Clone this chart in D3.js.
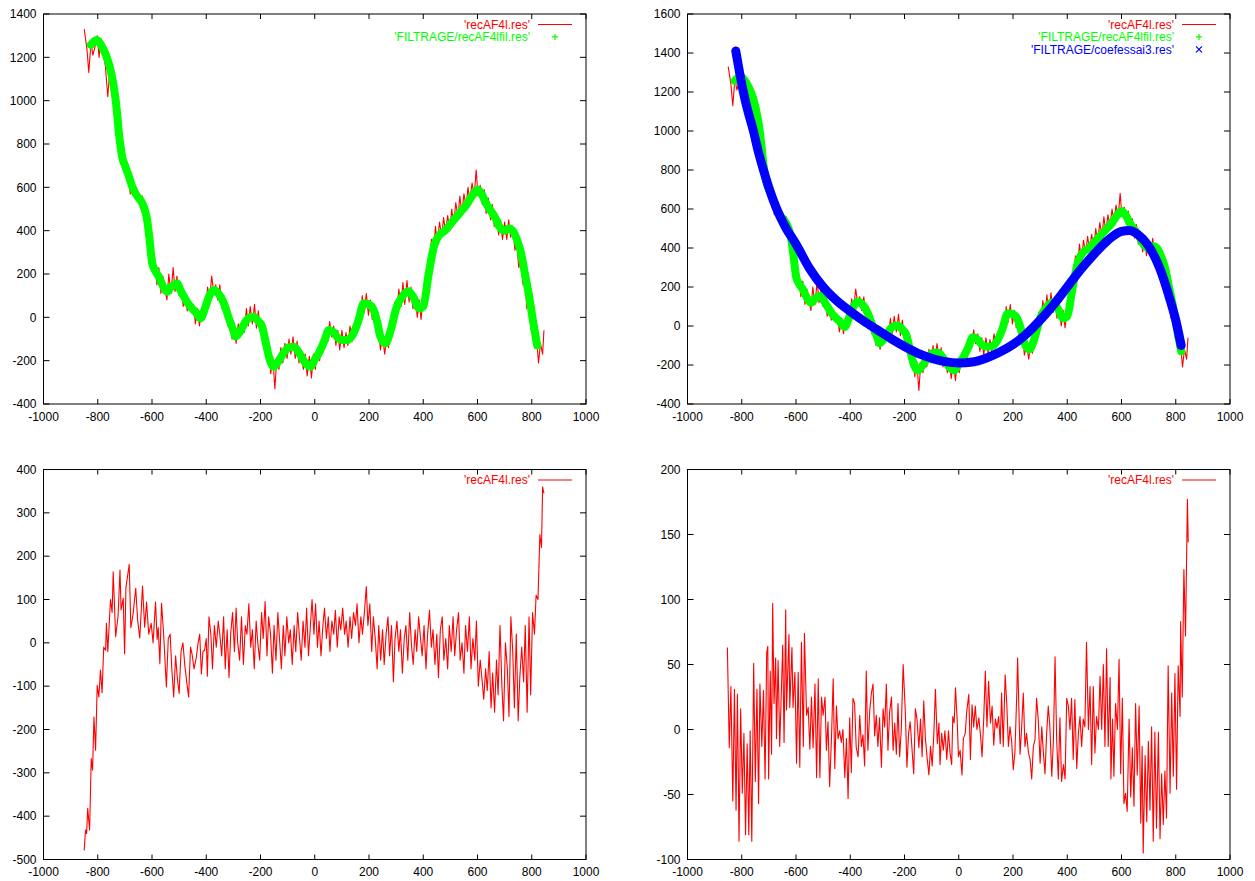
<!DOCTYPE html>
<html>
<head>
<meta charset="utf-8">
<script src="https://cdn.jsdelivr.net/npm/d3@7"></script>
<style>
  body { margin: 0; background: #fff; }
  svg text { font-family: "Liberation Sans", Arial, sans-serif; font-size: 12px; fill: #000; }
</style>
</head>
<body>
<svg id="chart" width="1255" height="881"></svg>
<script>
// raw signal 'recAF4l.res' (top panels)
const recAF4l = [[-850,1330],[-840,1240],[-833,1130],[-825,1270],[-818,1210],[-810,1250],[-802,1300],[-795,1200],[-788,1285],[-780,1220],[-772,1160],[-763,1018],[-755,1150],[-748,1100],[-740,1040],[-732,980],[-725,900],[-718,850],[-710,700],[-702,735],[-695,690],[-688,650],[-680,570],[-672,640],[-665,580],[-658,600],[-650,560],[-642,500],[-635,560],[-627,470],[-620,440],[-612,400],[-605,300],[-598,230],[-590,270],[-582,150],[-575,230],[-567,110],[-560,190],[-552,130],[-545,80],[-538,200],[-530,110],[-522,230],[-515,120],[-508,190],[-500,100],[-492,150],[-485,50],[-478,110],[-470,30],[-462,80],[-455,20],[-448,60],[-440,-30],[-432,40],[-425,-40],[-418,30],[-410,60],[-402,20],[-395,140],[-388,80],[-380,190],[-372,110],[-365,150],[-358,80],[-350,150],[-342,40],[-335,100],[-328,20],[-320,-40],[-312,20],[-305,-100],[-298,-40],[-290,-120],[-282,-30],[-275,-90],[-268,-20],[-260,-70],[-252,40],[-245,-40],[-238,50],[-230,-30],[-222,60],[-215,-50],[-208,30],[-200,-70],[-192,-20],[-185,-110],[-178,-160],[-170,-130],[-162,-260],[-155,-180],[-147,-330],[-140,-190],[-132,-240],[-125,-140],[-118,-210],[-110,-120],[-102,-190],[-95,-100],[-88,-170],[-80,-90],[-72,-190],[-65,-110],[-58,-210],[-50,-150],[-42,-240],[-35,-170],[-28,-270],[-20,-180],[-12,-280],[-5,-170],[2,-240],[10,-150],[18,-200],[25,-100],[32,-160],[40,-50],[48,-110],[55,-20],[62,-90],[70,-40],[78,-130],[85,-60],[92,-150],[100,-60],[108,-140],[115,-70],[122,-130],[130,-40],[138,-110],[145,-30],[152,-80],[160,30],[168,-30],[175,100],[182,20],[190,110],[198,10],[205,80],[212,-10],[220,60],[228,-70],[235,-40],[242,-150],[250,-90],[258,-170],[265,-90],[272,-140],[280,-20],[288,-70],[295,70],[302,10],[310,130],[318,50],[325,160],[332,60],[340,170],[348,70],[355,140],[362,40],[370,100],[378,0],[385,80],[392,-10],[400,90],[408,80],[415,240],[422,200],[430,360],[438,300],[445,420],[452,340],[460,440],[468,370],[475,460],[482,390],[490,470],[498,400],[505,500],[512,430],[520,530],[528,460],[535,560],[542,480],[550,570],[558,510],[565,600],[572,540],[580,620],[588,560],[595,680],[602,560],[610,610],[618,520],[625,590],[632,480],[640,550],[648,450],[655,520],[662,420],[670,480],[678,380],[685,450],[692,360],[700,440],[708,360],[715,450],[722,370],[730,420],[738,310],[745,340],[752,230],[760,260],[768,150],[775,170],[782,40],[790,80],[798,-60],[805,-40],[812,-140],[818,-100],[825,-210],[832,-120],[840,-170],[845,-60]];

// filtered signal 'FILTRAGE/recAF4lfil.res'
const recAF4lfil = [[-826,1257],[-815,1272],[-804,1280],[-790,1262],[-778,1234],[-765,1195],[-753,1142],[-743,1080],[-734,1003],[-727,920],[-722,850],[-716,790],[-710,741],[-698,695],[-685,650],[-673,603],[-655,560],[-636,527],[-625,490],[-618,450],[-610,370],[-599,249],[-588,215],[-575,188],[-560,145],[-544,118],[-530,140],[-518,150],[-507,157],[-495,125],[-480,90],[-468,65],[-458,49],[-440,25],[-421,-5],[-405,40],[-390,95],[-372,126],[-355,110],[-335,65],[-315,-10],[-300,-60],[-292,-89],[-275,-65],[-255,-20],[-240,0],[-225,3],[-210,-15],[-194,-43],[-180,-120],[-165,-200],[-151,-228],[-135,-205],[-115,-165],[-95,-138],[-77,-136],[-55,-170],[-35,-210],[-16,-228],[0,-195],[15,-165],[35,-110],[52,-58],[70,-70],[85,-95],[100,-105],[119,-105],[140,-80],[160,-20],[181,65],[200,60],[217,34],[230,-20],[242,-89],[260,-120],[280,-60],[300,40],[325,100],[345,120],[365,90],[385,40],[400,50],[420,200],[440,330],[460,380],[480,400],[500,430],[520,460],[540,490],[560,520],[580,560],[600,590],[615,570],[630,530],[650,490],[665,460],[680,420],[700,400],[715,410],[730,400],[745,360],[760,300],[775,200],[790,100],[805,-20],[820,-130]];

// fitted curve 'FILTRAGE/coefessai3.res'
const coefessai3 = [[-822,1410],[-808,1300],[-794,1200],[-776,1095],[-757,1000],[-740,900],[-720,800],[-700,710],[-671,600],[-640,510],[-600,420],[-550,295],[-500,200],[-450,130],[-400,75],[-350,25],[-300,-20],[-250,-65],[-200,-105],[-150,-140],[-100,-165],[-50,-183],[0,-190],[50,-185],[100,-165],[150,-135],[200,-95],[250,-40],[300,30],[350,110],[400,200],[450,290],[500,370],[550,440],[600,485],[630,490],[660,470],[700,410],[740,300],[780,130],[800,30],[820,-100]];

// bottom left residual
const residuLeft = [[-850,-479],[-845,-432],[-841,-440],[-837,-382],[-830,-432],[-824,-267],[-819,-294],[-814,-171],[-808,-248],[-802,-98],[-796,-125],[-790,-63],[-784,-115],[-778,-10],[-771,-17],[-768,45],[-763,-20],[-753,100],[-747,70],[-743,164],[-734,14],[-725,63],[-718,168],[-714,76],[-706,103],[-701,-25],[-696,128],[-684,181],[-678,35],[-670,65],[-660,126],[-653,53],[-645,11],[-635,131],[-627,36],[-620,94],[-612,20],[-603,45],[-596,0],[-587,94],[-581,8],[-577,35],[-571,-48],[-565,91],[-558,30],[-547,-102],[-540,10],[-533,20],[-527,-60],[-520,-125],[-513,-30],[-507,-79],[-500,-117],[-493,-20],[-486,0],[-479,-52],[-472,-90],[-465,-125],[-458,-10],[-452,-27],[-445,-60],[-437,-35],[-430,0],[-424,20],[-418,-72],[-412,-20],[-406,-17],[-400,10],[-396,-77],[-390,60],[-383,20],[-377,-60],[-370,40],[-363,-10],[-356,50],[-350,20],[-343,-30],[-336,60],[-330,-60],[-323,30],[-316,-80],[-310,20],[-303,70],[-296,-20],[-290,80],[-284,0],[-277,-40],[-270,60],[-263,-50],[-256,40],[-250,20],[-243,90],[-236,-10],[-230,30],[-223,-60],[-216,50],[-210,0],[-203,-40],[-196,70],[-190,10],[-183,95],[-176,-30],[-170,60],[-163,20],[-156,-70],[-150,40],[-143,-40],[-136,70],[-130,10],[-123,-60],[-116,40],[-110,-30],[-103,60],[-96,0],[-90,30],[-83,-50],[-76,40],[-70,-20],[-63,70],[-56,10],[-50,-40],[-43,50],[-36,-10],[-30,80],[-23,-30],[-16,40],[-10,100],[-3,20],[3,90],[10,-10],[16,50],[23,-30],[30,40],[36,80],[43,10],[50,60],[56,-20],[63,50],[70,20],[76,75],[83,-10],[90,60],[96,30],[103,80],[110,20],[116,50],[123,-10],[130,60],[136,10],[143,70],[150,40],[156,90],[163,0],[170,60],[176,20],[183,70],[190,130],[196,40],[203,90],[210,-20],[216,60],[223,10],[230,-60],[236,40],[243,-40],[250,30],[256,-50],[263,20],[270,60],[276,-30],[283,40],[290,-90],[296,10],[303,50],[310,-20],[316,30],[323,-70],[330,10],[336,40],[343,-40],[350,70],[356,0],[363,-50],[370,30],[376,-20],[383,60],[390,10],[396,-30],[403,40],[410,-60],[416,20],[423,75],[430,-10],[436,30],[443,-50],[450,20],[456,-80],[463,30],[470,60],[476,-40],[483,10],[490,-60],[496,40],[503,-20],[510,60],[516,-30],[523,30],[530,70],[536,-40],[543,0],[550,-70],[556,40],[563,-20],[570,60],[576,-60],[583,10],[590,-40],[596,50],[603,-100],[610,-40],[616,-80],[623,-130],[630,-60],[636,-110],[643,-20],[650,-150],[656,-70],[663,-160],[670,-40],[676,-120],[683,40],[690,-100],[696,-180],[703,0],[710,-60],[716,-170],[723,60],[730,-20],[736,-150],[743,20],[750,-180],[756,-80],[763,-10],[770,-90],[776,40],[783,-160],[790,60],[796,-120],[803,70],[810,20],[816,110],[823,100],[830,250],[836,220],[840,360],[845,345]];

// bottom right residual
const residuRight = [[-853,63],[-846,-14],[-840,33],[-833,-55],[-827,31],[-821,-62],[-816,27],[-810,-86],[-804,16],[-798,-49],[-792,-3],[-786,-81],[-780,-11],[-774,-81],[-769,-1],[-763,-86],[-756,51],[-750,-40],[-744,31],[-738,-57],[-733,35],[-726,-13],[-720,30],[-714,-38],[-708,59],[-704,64],[-701,-38],[-695,45],[-690,-19],[-686,97],[-681,20],[-675,55],[-672,-7],[-666,53],[-660,-13],[-649,65],[-644,-10],[-638,92],[-635,15],[-626,73],[-623,17],[-615,63],[-611,17],[-604,44],[-598,-26],[-592,44],[-586,-29],[-580,67],[-573,-13],[-569,74],[-561,11],[-555,17],[-549,-15],[-543,25],[-537,-14],[-530,35],[-524,-37],[-518,39],[-512,-37],[-506,25],[-500,11],[-493,25],[-488,-16],[-482,6],[-476,-44],[-469,-5],[-463,39],[-457,-30],[-451,18],[-445,-7],[-439,-1],[-433,-10],[-427,0],[-420,-37],[-414,-7],[-408,-53],[-402,9],[-396,-33],[-390,24],[-384,20],[-378,-14],[-371,-21],[-365,11],[-359,-13],[-353,-4],[-347,-28],[-341,45],[-335,-16],[-328,15],[-322,28],[-316,35],[-310,-5],[-304,11],[-298,-13],[-292,9],[-285,-29],[-279,16],[-273,2],[-267,35],[-261,-16],[-255,13],[-248,25],[-242,-16],[-236,5],[-230,-19],[-224,20],[-218,-21],[-212,-1],[-205,50],[-197,14],[-191,-29],[-185,-3],[-179,6],[-172,-16],[-166,-34],[-160,16],[-154,8],[-147,-14],[-141,8],[-135,-21],[-129,22],[-123,-7],[-116,-23],[-110,-35],[-104,-13],[-98,-28],[-92,-4],[-86,31],[-79,-11],[-73,5],[-69,-27],[-63,-3],[-57,-16],[-51,-1],[-44,-23],[-38,-1],[-32,-18],[-26,-27],[-22,10],[-17,5],[-12,32],[-6,8],[-1,-21],[5,-16],[12,-35],[17,-7],[24,-3],[29,13],[37,27],[43,-23],[49,19],[55,2],[61,18],[67,0],[74,9],[80,-4],[86,-21],[92,8],[98,45],[104,2],[110,37],[117,5],[123,18],[129,-12],[135,8],[141,1],[147,10],[153,-11],[158,28],[164,-13],[171,42],[177,20],[183,-13],[189,2],[195,-9],[201,-31],[207,-18],[214,28],[217,55],[226,-19],[232,2],[238,28],[244,-13],[250,-3],[257,-18],[263,-23],[269,-38],[275,-13],[281,-8],[287,24],[293,8],[300,-26],[306,2],[312,-18],[318,-34],[324,-3],[330,18],[336,2],[343,-36],[349,-8],[355,56],[361,-8],[367,-38],[373,9],[379,-40],[386,-27],[392,-38],[398,24],[404,18],[410,0],[416,24],[422,-23],[428,23],[435,-30],[441,-3],[447,10],[453,-13],[459,8],[465,2],[471,67],[478,0],[484,33],[490,-27],[496,33],[502,-18],[508,10],[515,0],[521,41],[527,0],[533,50],[539,-13],[545,62],[551,-13],[558,40],[561,-38],[567,8],[572,-36],[578,20],[585,0],[591,54],[597,-34],[603,24],[609,-57],[615,-49],[621,-63],[628,8],[634,-52],[640,-14],[646,-59],[652,20],[658,-35],[665,18],[671,-72],[676,-13],[680,-95],[687,-20],[693,-71],[699,-9],[705,-62],[711,2],[717,-86],[723,-2],[729,-76],[736,-2],[742,-84],[748,-34],[754,-73],[760,-32],[766,-68],[772,49],[779,-49],[785,28],[791,-36],[797,43],[803,-46],[809,49],[816,10],[818,83],[824,25],[830,123],[836,72],[843,177],[846,144]];

const xTicks = [-1000, -800, -600, -400, -200, 0, 200, 400, 600, 800, 1000];
const yTicksTopLeft = [-400, -200, 0, 200, 400, 600, 800, 1000, 1200, 1400];
const yTicksTopRight = [-400, -200, 0, 200, 400, 600, 800, 1000, 1200, 1400, 1600];
const yTicksBottomLeft = [-500, -400, -300, -200, -100, 0, 100, 200, 300, 400];
const yTicksBottomRight = [-100, -50, 0, 50, 100, 150, 200];

const labelRaw = "'recAF4l.res'";
const labelFil = "'FILTRAGE/recAF4lfil.res'";
const labelFit = "'FILTRAGE/coefessai3.res'";

const RED = '#ff0000', GREEN = '#00ff00', BLUE = '#0000ff';

let svg = d3.select('#chart');

function drawPanel(p, idx) {
    let x = d3.scaleLinear().domain([-1000, 1000]).range([p.left, p.right]);
    let y = d3.scaleLinear().domain([p.yTicks[0], p.yTicks[p.yTicks.length - 1]]).range([p.bottom, p.top]);

    let clipId = 'clip' + idx;
    svg.append('clipPath').attr('id', clipId)
        .append('rect')
        .attr('x', p.left).attr('y', p.top)
        .attr('width', p.right - p.left).attr('height', p.bottom - p.top);

    let g = svg.append('g');
    let plot = g.append('g').attr('clip-path', 'url(#' + clipId + ')');

    for (let s of p.series) {
        let line = d3.line().x(d => x(d[0])).y(d => y(d[1]));
        if (s.thick) line.curve(d3.curveMonotoneX);
        plot.append('path')
            .datum(s.data)
            .attr('fill', 'none')
            .attr('stroke', s.color)
            .attr('stroke-width', s.thick || 1.1)
            .attr('stroke-linejoin', 'round')
            .attr('stroke-linecap', s.thick ? 'round' : 'butt')
            .attr('d', line);
    }

    // border + mirrored inward ticks, gnuplot style
    let axis = g.append('g').attr('stroke', '#000').attr('stroke-width', 1).attr('fill', 'none');
    axis.append('rect')
        .attr('x', p.left).attr('y', p.top)
        .attr('width', p.right - p.left).attr('height', p.bottom - p.top);
    for (let t of xTicks) {
        let px = x(t);
        axis.append('line').attr('x1', px).attr('x2', px).attr('y1', p.bottom).attr('y2', p.bottom - 5);
        axis.append('line').attr('x1', px).attr('x2', px).attr('y1', p.top).attr('y2', p.top + 5);
        g.append('text')
            .attr('x', px).attr('y', p.bottom + 16.5)
            .attr('text-anchor', 'middle')
            .text(t);
    }
    for (let t of p.yTicks) {
        let py = y(t);
        axis.append('line').attr('x1', p.left).attr('x2', p.left + 6).attr('y1', py).attr('y2', py);
        axis.append('line').attr('x1', p.right).attr('x2', p.right - 6).attr('y1', py).attr('y2', py);
        g.append('text')
            .attr('x', p.left - 7).attr('y', py + 4.2)
            .attr('text-anchor', 'end')
            .text(t);
    }

    // legend, top right inside the box
    p.legend.forEach((l, i) => {
        let ly = p.top + 10.5 + i * 12.4;
        g.append('text')
            .attr('x', p.right - 56).attr('y', ly + 4.2)
            .attr('text-anchor', 'end')
            .style('fill', l.color)
            .text(l.label);
        let mx = p.right - 31;
        if (l.kind == 'line') {
            g.append('line').attr('x1', p.right - 48).attr('x2', p.right - 14)
                .attr('y1', ly).attr('y2', ly)
                .attr('stroke', l.color).attr('stroke-width', 1.1);
        } else if (l.kind == 'plus') {
            g.append('path').attr('d', `M${mx - 3},${ly}H${mx + 3}M${mx},${ly - 3}V${ly + 3}`)
                .attr('stroke', l.color).attr('stroke-width', 1.2);
        } else {
            g.append('path').attr('d', `M${mx - 3},${ly - 3}L${mx + 3},${ly + 3}M${mx - 3},${ly + 3}L${mx + 3},${ly - 3}`)
                .attr('stroke', l.color).attr('stroke-width', 1.2);
        }
    });
}

let panels = [
    { left: 43.5, right: 586, top: 14, bottom: 404, yTicks: yTicksTopLeft,
      series: [{ data: recAF4l, color: RED }, { data: recAF4lfil, color: GREEN, thick: 8 }],
      legend: [{ label: labelRaw, color: RED, kind: 'line' }, { label: labelFil, color: GREEN, kind: 'plus' }] },
    { left: 687.5, right: 1230, top: 14, bottom: 404, yTicks: yTicksTopRight,
      series: [{ data: recAF4l, color: RED }, { data: recAF4lfil, color: GREEN, thick: 8 }, { data: coefessai3, color: BLUE, thick: 9 }],
      legend: [{ label: labelRaw, color: RED, kind: 'line' }, { label: labelFil, color: GREEN, kind: 'plus' }, { label: labelFit, color: BLUE, kind: 'cross' }] },
    { left: 43.5, right: 586, top: 469.5, bottom: 859.5, yTicks: yTicksBottomLeft,
      series: [{ data: residuLeft, color: RED }],
      legend: [{ label: labelRaw, color: RED, kind: 'line' }] },
    { left: 687.5, right: 1230, top: 469.5, bottom: 859.5, yTicks: yTicksBottomRight,
      series: [{ data: residuRight, color: RED }],
      legend: [{ label: labelRaw, color: RED, kind: 'line' }] }
];

panels.forEach((p, i) => drawPanel(p, i));
</script>
</body>
</html>
